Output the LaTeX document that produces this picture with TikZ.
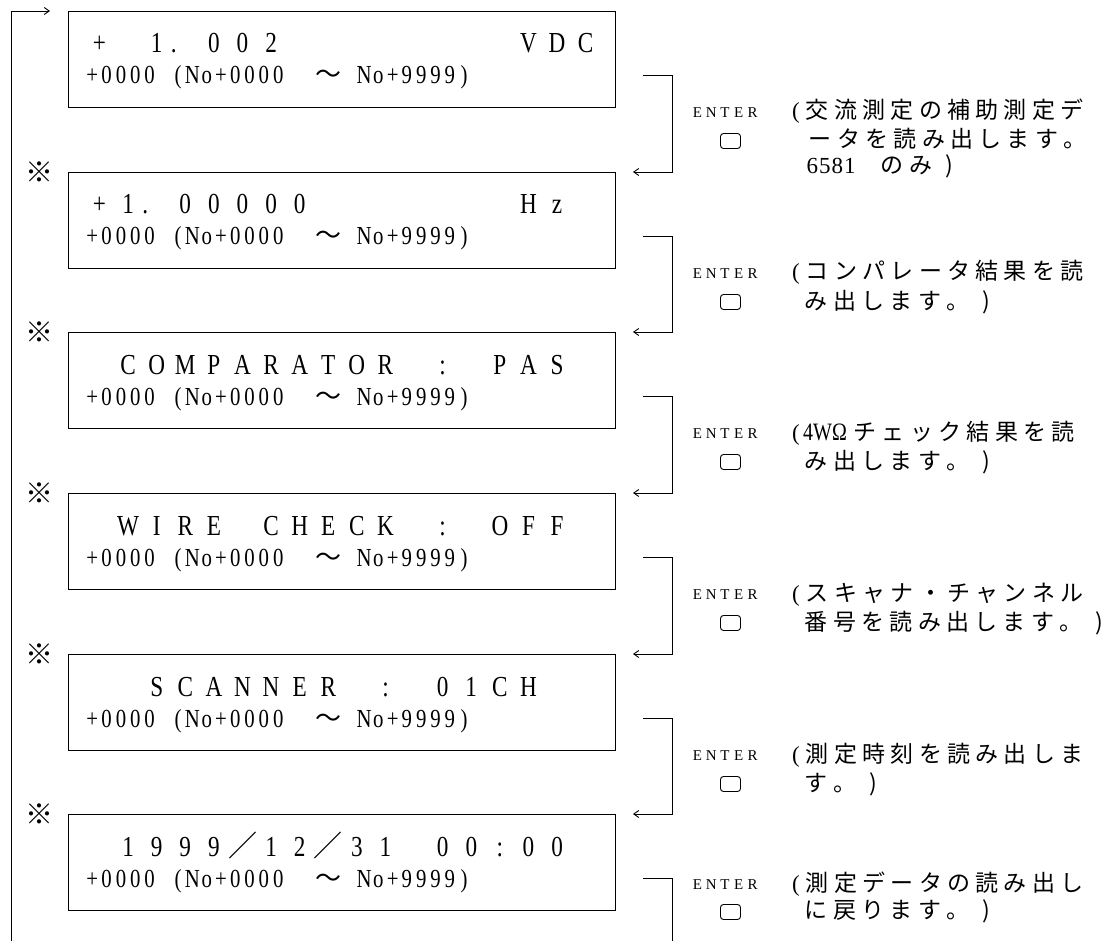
\documentclass[tikz,border=0pt]{standalone}
\usepackage{fontspec}
\setmainfont{Liberation Serif}
\newfontfamily\lcdf[FakeStretch=0.8]{Liberation Serif}
\newfontfamily\cjk{Noto Sans CJK JP}
\usetikzlibrary{arrows.meta}

\newlength\cellw
\def\cellend{\cellend}
\def\cellloop#1{\ifx#1\cellend\else\cellbox{#1}\expandafter\cellloop\fi}
\newcommand\cellbox[1]{\ifx#1～\makebox[2\cellw]{\cjk ～}\else\makebox[\cellw]{#1}\fi}
\newcommand\cells[2]{\setlength\cellw{#1}\cellloop#2\cellend}
\newcommand\dotl{\hbox to\cellw{.\hss}}
\newcommand\lineone[1]{\fontsize{29}{29}\lcdf\cells{28.6pt}{#1}}
\newcommand\linetwo{\fontsize{26}{26}\lcdf\cells{14.3pt}{+0000~(No+0000~~～~No+9999)}}
\newcommand\jp[1]{{\cjk\cells{28.3pt}{#1}}}
\newcommand\opn{\makebox[11pt][l]{\fontsize{23}{23}\rmfamily(}}
\newcommand\halfw{\fontsize{25}{25}\lcdf}

\tikzset{
  lcdbox/.style={draw, line width=0.9pt, anchor=north west, minimum width=547pt, minimum height=96pt, inner sep=0pt},
  txt/.style={anchor=base west, inner sep=0pt},
  jptxt/.style={anchor=base west, inner sep=0pt, font=\fontsize{23}{23}\selectfont},
  entertxt/.style={inner sep=0pt, font=\fontsize{15}{15}\selectfont},
  keybox/.style={draw, line width=0.9pt, rounded corners=3pt, minimum width=20pt, minimum height=15pt, inner sep=0pt},
  refmark/.style={inner sep=0pt, font=\fontsize{28}{28}\cjk},
  conn/.style={line width=0.9pt},
  arr/.style={line width=0.9pt, -{Straight Barb[length=5pt,width=7pt]}}
}

\begin{document}
\begin{tikzpicture}[x=1pt, y=-1pt]
\useasboundingbox (0,0) rectangle (1119,941);

% display boxes
\node[lcdbox] (b1) at (68,11) {};
\node[lcdbox] (b2) at (68,172) {};
\node[lcdbox] (b3) at (68,332) {};
\node[lcdbox] (b4) at (68,493) {};
\node[lcdbox] (b5) at (68,654) {};
\node[lcdbox] (b6) at (68,814) {};

% line 1 texts
\node[txt] (l1a) at (85,53) {\lineone{+~1\dotl002~~~~~~~~VDC}};
\node[txt] (l1b) at (85,214) {\lineone{+1\dotl00000~~~~~~~Hz}};
\node[txt] (l1c) at (85,374) {\lineone{~COMPARATOR~:~PAS}};
\node[txt] (l1d) at (85,535) {\lineone{~WIRE~CHECK~:~OFF}};
\node[txt] (l1e) at (85,696) {\lineone{~~SCANNER~:~01CH}};
\node[txt] (l1f) at (85,856) {\lineone{~1999{\cjk ／}12{\cjk ／}31~00:00}};

% line 2 texts
\node[txt] (l2a) at (85,84) {\linetwo};
\node[txt] (l2b) at (85,245) {\linetwo};
\node[txt] (l2c) at (85,405) {\linetwo};
\node[txt] (l2d) at (85,566) {\linetwo};
\node[txt] (l2e) at (85,727) {\linetwo};
\node[txt] (l2f) at (85,887) {\linetwo};

% marks
\node[refmark] (m2) at (39,172) {※};
\node[refmark] (m3) at (39,332) {※};
\node[refmark] (m4) at (39,493) {※};
\node[refmark] (m5) at (39,654) {※};
\node[refmark] (m6) at (39,814) {※};

% loop back line
\coordinate (lp0) at (11,941);
\coordinate (lp1) at (50,11);
\draw[arr] (lp0) |- (lp1);

% brackets
\coordinate (s1) at (643,75);  \coordinate (e1) at (633,172);
\coordinate (s2) at (643,236); \coordinate (e2) at (633,332);
\coordinate (s3) at (643,396); \coordinate (e3) at (633,493);
\coordinate (s4) at (643,557); \coordinate (e4) at (633,654);
\coordinate (s5) at (643,718); \coordinate (e5) at (633,814);
\coordinate (s6) at (643,878); \coordinate (e6) at (672,941);
\draw[arr] (s1) -| ([xshift=39pt]e1) -- (e1);
\draw[arr] (s2) -| ([xshift=39pt]e2) -- (e2);
\draw[arr] (s3) -| ([xshift=39pt]e3) -- (e3);
\draw[arr] (s4) -| ([xshift=39pt]e4) -- (e4);
\draw[arr] (s5) -| ([xshift=39pt]e5) -- (e5);
\draw[conn] (s6) -| (e6);

% ENTER keys
\node[entertxt] (en1) at (725,113) {\cells{13.8pt}{ENTER}};
\node[entertxt] (en2) at (725,274) {\cells{13.8pt}{ENTER}};
\node[entertxt] (en3) at (725,434) {\cells{13.8pt}{ENTER}};
\node[entertxt] (en4) at (725,595) {\cells{13.8pt}{ENTER}};
\node[entertxt] (en5) at (725,756) {\cells{13.8pt}{ENTER}};
\node[entertxt] (en6) at (725,885) {\cells{13.8pt}{ENTER}};
\node[keybox] (k1) at (730.5,141) {};
\node[keybox] (k2) at (730.5,302) {};
\node[keybox] (k3) at (730.5,462) {};
\node[keybox] (k4) at (730.5,623) {};
\node[keybox] (k5) at (730.5,784) {};
\node[keybox] (k6) at (730.5,912) {};

% descriptions
\node[jptxt] (d1a) at (792,119) {\opn\jp{交流測定の補助測定デ}};
\node[jptxt] (d1b) at (806,148) {\jp{ータを読み出します。}};
\node[jptxt] (d1c) at (806,174) {{\fontsize{23}{23}\rmfamily\cells{12.5pt}{6581}}\hspace{22pt}\jp{のみ)}};

\node[jptxt] (d2a) at (792,280) {\opn\jp{コンパレータ結果を読}};
\node[jptxt] (d2b) at (802,309) {\jp{み出します。)}};

\node[jptxt] (d3a) at (792,440) {\opn{\halfw 4WΩ}\hspace{4pt}\jp{チェック結果を読}};
\node[jptxt] (d3b) at (802,469) {\jp{み出します。)}};

\node[jptxt] (d4a) at (792,601) {\opn\jp{スキャナ・チャンネル}};
\node[jptxt] (d4b) at (802,630) {\jp{番号を読み出します。)}};

\node[jptxt] (d5a) at (792,762) {\opn\jp{測定時刻を読み出しま}};
\node[jptxt] (d5b) at (802,791) {\jp{す。)}};

\node[jptxt] (d6a) at (792,891) {\opn\jp{測定データの読み出し}};
\node[jptxt] (d6b) at (802,918) {\jp{に戻ります。)}};
\end{tikzpicture}
\end{document}
